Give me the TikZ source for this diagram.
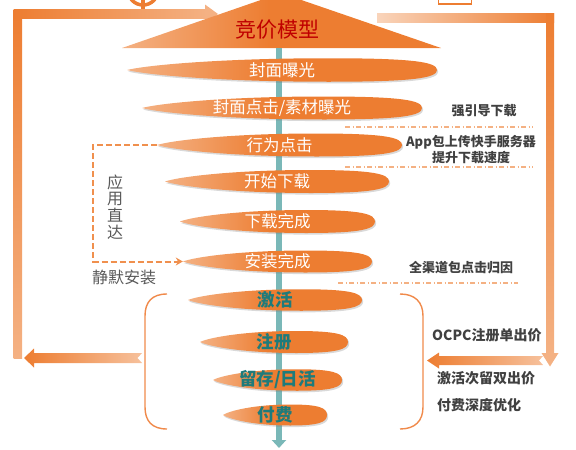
\documentclass[tikz,border=0pt]{standalone}
\usepackage{fontspec}
\setmainfont{Noto Sans CJK SC}
\usetikzlibrary{shapes.geometric,shadows,arrows.meta}
\definecolor{org}{HTML}{ED7D31}
\definecolor{lt}{HTML}{F4B183}
\definecolor{teal1}{HTML}{7AB8B8}
\definecolor{tealtxt}{HTML}{1E7B7B}
\definecolor{gtxt}{HTML}{404040}
\definecolor{stxt}{HTML}{595959}
\definecolor{redtxt}{HTML}{C00000}
\definecolor{brk}{HTML}{F08A4B}
\definecolor{dashc}{HTML}{F0904E}
\pgfdeclarehorizontalshading{lensshade}{100bp}{color(0bp)=(lt); color(25bp)=(lt); color(48bp)=(org); color(100bp)=(org)}
\tikzset{
  lensfill/.style={shade, shading=lensshade,
    drop shadow={shadow xshift=1.2pt, shadow yshift=-1.6pt, opacity=0.3, fill=gray}},
  lens/.style={ellipse, draw=none, inner sep=0pt},
  uplab/.style={text=white, font=\fontsize{16.5}{18}\selectfont},
  lowlab/.style={text=tealtxt, font=\fontsize{17.5}{19}\selectfont\bfseries},
  titlelab/.style={text=redtxt, font=\fontsize{21}{23}\selectfont, inner sep=0pt},
  note/.style={text=gtxt, font=\fontsize{13}{15}\selectfont\bfseries, inner sep=0pt, align=center},
  notebig/.style={text=gtxt, font=\fontsize{14}{16}\selectfont\bfseries, inner sep=0pt, anchor=west},
  side/.style={text=stxt, font=\fontsize{16}{16.7}\selectfont, inner sep=0pt, align=center},
  dd/.style={lt, line width=1.1pt, dash pattern=on 5pt off 2.5pt on 1pt off 2.5pt},
  bracket/.style={brk, line width=1.4pt},
  dashconn/.style={dashc, line width=2pt, dash pattern=on 6pt off 3pt, -{Stealth[length=7pt,width=8pt]}},
  spine/.style={teal1, line width=6.5pt, -{Triangle[length=8pt,width=14pt]}}
}
% #1 name, #2 cx, #3 cy, #4 width, #5 height, #6 label style, #7 text
\newcommand\lensnode[7]{%
  \pgfmathsetmacro\lnsL{#2-#4/2}%
  \pgfmathsetmacro\lnsR{#2+#4/2}%
  \pgfmathsetmacro\lnsT{#3-#5/2}%
  \pgfmathsetmacro\lnsB{#3+#5/2}%
  \pgfmathsetmacro\lnsA{\lnsL+0.06*#4}%
  \pgfmathsetmacro\lnsP{#3-0.2*#5}%
  \pgfmathsetmacro\lnsQ{#3+0.2*#5}%
  \pgfmathsetmacro\lnsC{\lnsL+0.3*#4}%
  \pgfmathsetmacro\lnsM{\lnsL+0.65*#4}%
  \pgfmathsetmacro\lnsD{\lnsL+0.93*#4}%
  \pgfmathsetmacro\lnsU{#3-0.33*#5}%
  \pgfmathsetmacro\lnsV{#3+0.33*#5}%
  \path[lensfill] (\lnsL,#3) .. controls (\lnsA,\lnsP) and (\lnsC,\lnsT) .. (\lnsM,\lnsT)
     .. controls (\lnsD,\lnsT) and (\lnsR,\lnsU) .. (\lnsR,#3)
     .. controls (\lnsR,\lnsV) and (\lnsD,\lnsB) .. (\lnsM,\lnsB)
     .. controls (\lnsC,\lnsB) and (\lnsA,\lnsQ) .. (\lnsL,#3) -- cycle;
  \node[lens, minimum width=#4pt, minimum height=#5pt, label={[#6]center:#7}] (#1) at (#2,#3) {};%
}
\begin{document}
\begin{tikzpicture}[x=1pt,y=-1pt]
\useasboundingbox (0,0) rectangle (576,450);
% partial icons at top
\draw[org, line width=3.5pt] (143,-10) circle (15pt);
\draw[org, line width=4pt] (143,-3) -- (143,11);
\draw[org, line width=1.8pt] (438.5,-2) -- (438.5,4) -- (471.5,4) -- (471.5,-2);
% left loop
\path[shade, top color=org, bottom color=lt] (13.5,10) rectangle (22,358);
\path[shade, left color=org, right color=lt] (13.5,9.5) rectangle (207,18.5);
\fill[lt] (205,4.5) -- (218,14) -- (205,23.5) -- cycle;
% right loop
\path[shade, left color=lt!55!white, right color=org] (377,13.5) rectangle (554,22);
\path[shade, left color=org, right color=lt!80!white]
  (427,360.5) -- (439,352.5) -- (439,356) -- (543,356) -- (539,360.5) -- (543,365) -- (439,365) -- (439,368.5) -- cycle;
\path[shade, top color=org, bottom color=lt] (546,13.5) rectangle (554,354);
\fill[lt] (541.5,353) -- (558.5,353) -- (550,366.5) -- cycle;
% bottom left arrow
\path[shade, left color=org, right color=lt!80!white]
  (24,358) -- (34,348.5) -- (34,353) -- (142,353) -- (137.5,358) -- (142,363) -- (34,363) -- (34,367.5) -- cycle;
% triangle
\path[shade, shading=lensshade] (122,48) -- (281,-7) -- (441,48) -- cycle;
\node[titlelab] (title) at (277,30) {竞价模型};
\coordinate (tbase) at (279,48);
\coordinate (tend) at (279,448);
\draw[spine] (tbase) -- (tend);
% lens-shaped stages
\lensnode{e1}{282}{70}{310}{23.5}{uplab}{封面曝光}
\lensnode{e2}{282}{108}{280}{23}{uplab}{封面点击/素材曝光}
\lensnode{e3}{279.5}{145}{245}{23}{uplab}{行为点击}
\lensnode{e4}{277}{181.5}{224}{23}{uplab}{开始下载}
\lensnode{e5}{277.5}{221.5}{195}{23}{uplab}{下载完成}
\lensnode{e6}{277.5}{261.5}{189}{22}{uplab}{安装完成}
\lensnode{e7}{275}{300}{174}{21.5}{lowlab}{激活}
\lensnode{e8}{274}{342}{148}{22}{lowlab}{注册}
\lensnode{e9}{277.5}{380}{129}{21.5}{lowlab}{留存/日活}
\lensnode{e10}{275}{415}{104}{21}{lowlab}{付费}
% dashed shortcut
\coordinate (dl) at (93,145);
\draw[dashconn] (e3.west) -- (dl) |- (e6.west);
\node[side] (ya) at (115,207) {应\\用\\直\\达};
\node[side, anchor=west] (jm) at (92,277) {静默安装};
% notes
\node[note] (n1) at (484,111) {强引导下载};
\draw[dd] (345,127) -- (533,127);
\node[note, font=\fontsize{13}{15.5}\selectfont\bfseries] (n2) at (471,149.5) {App包上传快手服务器\\提升下载速度};
\draw[dd] (345,167) -- (533,167);
\node[note] (n3) at (461,268) {全渠道包点击归因};
\draw[dd] (338,283) -- (518,283);
\node[notebig] (n4) at (432,335) {OCPC注册单出价};
\node[notebig] (n5) at (437,378) {激活次留双出价};
\node[notebig] (n6) at (437,405) {付费深度优化};
% brackets
\draw[bracket] (167,294) .. controls (152,294) and (145,302) .. (145,316) -- (145,407) .. controls (145,421) and (152,429) .. (167,429);
\draw[bracket] (400,294) .. controls (415,294) and (423,302) .. (423,316) -- (423,407) .. controls (423,421) and (415,429) .. (400,429);
\end{tikzpicture}
\end{document}
